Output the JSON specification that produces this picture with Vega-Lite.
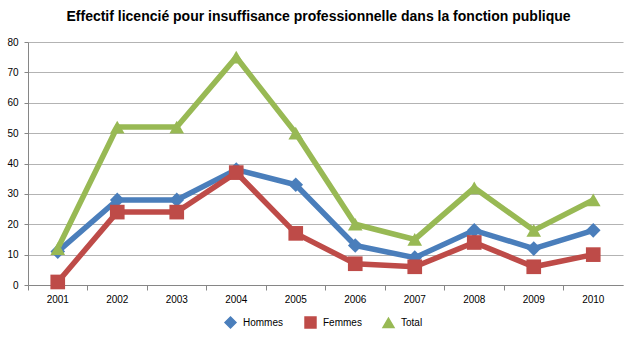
{
  "$schema": "https://vega.github.io/schema/vega-lite/v6.json",
  "autosize": {"type": "none"},
  "width": 595,
  "height": 243,
  "padding": {"left": 28, "top": 42, "right": 15, "bottom": 56},
  "background": "white",
  "title": {
    "text": "Effectif licencié pour insuffisance professionnelle dans la fonction publique",
    "font": "Liberation Sans",
    "fontSize": 14,
    "fontWeight": "bold",
    "color": "#000000",
    "anchor": "middle",
    "dx": -7,
    "offset": 13
  },
  "config": {
    "view": {"stroke": null},
    "axis": {"labelFont": "Liberation Sans", "labelFontSize": 10, "labelColor": "#000000", "domainColor": "#868686", "tickColor": "#868686", "gridColor": "#b3b3b3", "title": null},
    "legend": {"labelFont": "Liberation Sans", "labelFontSize": 10, "labelColor": "#000000", "orient": "none", "legendX": 196, "legendY": 274, "direction": "horizontal", "title": null, "symbolSize": 120, "columnPadding": 18, "labelOffset": 6}
  },
  "data": {
    "values": [
      {"annee": "2001", "serie": "Hommes", "valeur": 11},
      {"annee": "2002", "serie": "Hommes", "valeur": 28},
      {"annee": "2003", "serie": "Hommes", "valeur": 28},
      {"annee": "2004", "serie": "Hommes", "valeur": 38},
      {"annee": "2005", "serie": "Hommes", "valeur": 33},
      {"annee": "2006", "serie": "Hommes", "valeur": 13},
      {"annee": "2007", "serie": "Hommes", "valeur": 9},
      {"annee": "2008", "serie": "Hommes", "valeur": 18},
      {"annee": "2009", "serie": "Hommes", "valeur": 12},
      {"annee": "2010", "serie": "Hommes", "valeur": 18},
      {"annee": "2001", "serie": "Femmes", "valeur": 1},
      {"annee": "2002", "serie": "Femmes", "valeur": 24},
      {"annee": "2003", "serie": "Femmes", "valeur": 24},
      {"annee": "2004", "serie": "Femmes", "valeur": 37},
      {"annee": "2005", "serie": "Femmes", "valeur": 17},
      {"annee": "2006", "serie": "Femmes", "valeur": 7},
      {"annee": "2007", "serie": "Femmes", "valeur": 6},
      {"annee": "2008", "serie": "Femmes", "valeur": 14},
      {"annee": "2009", "serie": "Femmes", "valeur": 6},
      {"annee": "2010", "serie": "Femmes", "valeur": 10},
      {"annee": "2001", "serie": "Total", "valeur": 12},
      {"annee": "2002", "serie": "Total", "valeur": 52},
      {"annee": "2003", "serie": "Total", "valeur": 52},
      {"annee": "2004", "serie": "Total", "valeur": 75},
      {"annee": "2005", "serie": "Total", "valeur": 50},
      {"annee": "2006", "serie": "Total", "valeur": 20},
      {"annee": "2007", "serie": "Total", "valeur": 15},
      {"annee": "2008", "serie": "Total", "valeur": 32},
      {"annee": "2009", "serie": "Total", "valeur": 18},
      {"annee": "2010", "serie": "Total", "valeur": 28}
    ]
  },
  "encoding": {
    "x": {
      "field": "annee", "type": "ordinal", "bandPosition": 0.5,
      "scale": {"type": "band", "paddingInner": 0, "paddingOuter": 0},
      "axis": {"labelAngle": 0, "bandPosition": 0, "grid": false, "tickSize": 5, "labelPadding": 4, "domainColor": "#868686"}
    },
    "y": {
      "field": "valeur", "type": "quantitative",
      "scale": {"domain": [0, 80]},
      "axis": {"values": [0, 10, 20, 30, 40, 50, 60, 70, 80], "tickSize": 4, "labelPadding": 6, "gridWidth": 1}
    },
    "color": {
      "field": "serie", "type": "nominal", "sort": ["Hommes", "Femmes", "Total"],
      "scale": {"domain": ["Hommes", "Femmes", "Total"], "range": ["#4a7ebb", "#be4b48", "#98b954"]}
    }
  },
  "layer": [
    {
      "mark": {"type": "line", "strokeWidth": 5.5},
      "encoding": {
        "order": {"field": "serie", "sort": "ascending"}
      }
    },
    {
      "mark": {"type": "point", "filled": true, "opacity": 1, "size": 215},
      "encoding": {
        "shape": {
          "field": "serie", "type": "nominal", "sort": ["Hommes", "Femmes", "Total"],
          "scale": {"domain": ["Hommes", "Femmes", "Total"], "range": ["diamond", "square", "triangle-up"]}
        }
      }
    }
  ]
}
